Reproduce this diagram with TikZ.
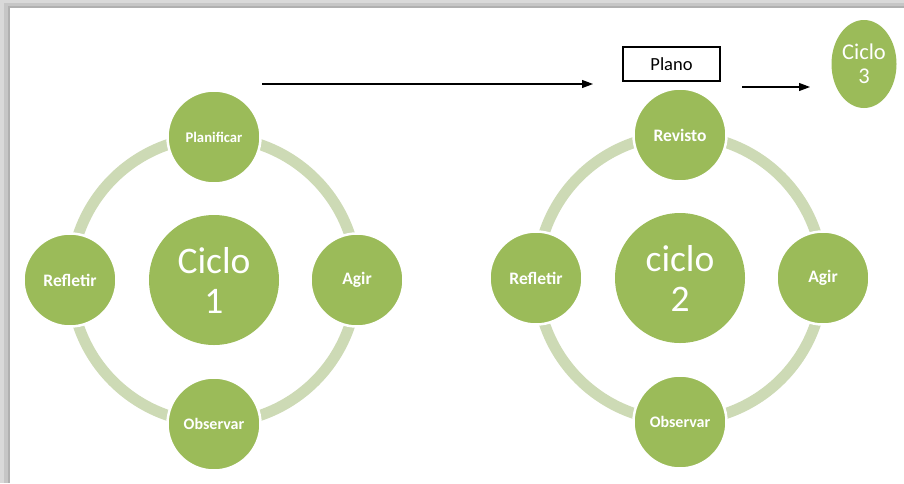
\documentclass[tikz,border=0pt]{standalone}
\usepackage{fontspec}
\setmainfont{Carlito}
\usepackage{tikz}
\usetikzlibrary{positioning, arrows.meta, shapes.geometric}

\definecolor{verde}{HTML}{9BBB59}
\definecolor{anelverde}{HTML}{CDDAB5}

\begin{document}
\begin{tikzpicture}[
    x=1pt, y=-1pt,
    anel/.style={draw=anelverde, line width=11pt},
    etapa/.style={
        circle,
        fill=verde,
        draw=white,
        line width=2.5pt,
        minimum size=93pt,
        inner sep=0pt,
        text=white,
        font=\fontsize{17.5}{20}\selectfont\bfseries
    },
    centro/.style={
        circle,
        fill=verde,
        minimum size=130pt,
        inner sep=0pt,
        text=white,
        align=center,
        font=\fontsize{37.5}{40}\selectfont
    },
    seta/.style={-{Triangle[length=11pt, width=8pt]}, line width=1.1pt}
]
\useasboundingbox (0,0) rectangle (904,483);

% ===== moldura com sombra =====
\fill[gray!30] (0,0) rectangle (904,483);
\fill[gray!45] (4,3) rectangle (904,483);
\fill[gray!62] (8,6) rectangle (904,483);
\fill[white] (10,8) rectangle (904,483);

% ===== os dois ciclos (anel + quatro etapas) =====
\foreach \n/\cx/\cy/\topo/\tam/\rotulo in {1/214/280/Planificar/14.7/Ciclo, 2/680/278/Revisto/17.5/ciclo} {
    \begin{scope}[shift={(\cx,\cy)}]
        \draw[anel] (0,0) circle[radius=143pt]; % anel claro
        \node[centro] (ciclo\n) at (0,0) {\rotulo\\\n};
        \node[etapa, font=\fontsize{\tam}{20}\selectfont\bfseries] (topo\n) at (0,-143) {\topo};
        \node[etapa] (agir\n) at (143,0) {Agir};
        \node[etapa, font=\fontsize{16}{18}\selectfont\bfseries] (observar\n) at (0,144) {Observar};
        \node[etapa] (refletir\n) at (-144,0) {Refletir};
    \end{scope}
}

% ===== plano e ciclo 3 =====
\node[draw, line width=1.1pt, minimum width=97pt, minimum height=34pt,
      inner sep=0pt, font=\fontsize{18.5}{20}\selectfont] (plano) at (671.5,64) {Plano};
\node[ellipse, fill=verde, minimum width=65pt, minimum height=88pt, inner sep=0pt,
      text=white, align=center, font=\fontsize{22.5}{24}\selectfont] (ciclo3) at (864,64) {Ciclo\\3};

% ===== setas =====
\coordinate (s1a) at (262,84);
\coordinate (s1b) at (593,84);
\coordinate (s2a) at (742,87);
\coordinate (s2b) at (810,87);
\draw[seta] (s1a) -- (s1b);
\draw[seta] (s2a) -- (s2b);

\end{tikzpicture}
\end{document}
